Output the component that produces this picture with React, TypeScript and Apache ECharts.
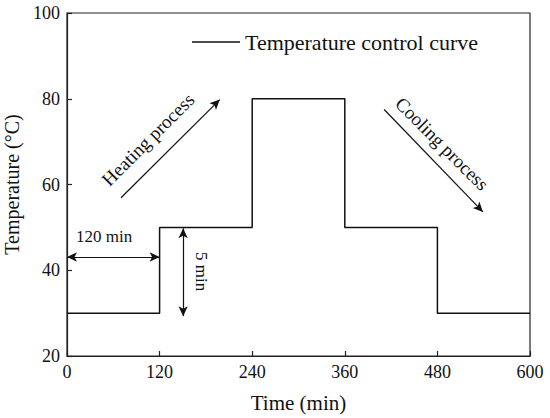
import React, { useEffect, useRef } from "react";
import * as echarts from "echarts";

// Step temperature control profile
const stepTimes = [0, 120, 240, 360, 480, 600];
const stepTemps = [30, 50, 80, 50, 30, 30];

const xTicks = [0, 120, 240, 360, 480, 600];
const yTicks = [20, 40, 60, 80, 100];

const seriesName = "Temperature control curve";
const xName = "Time (min)";
const yName = "Temperature (°C)";

// Annotation arrows in data coordinates: [x1, y1, x2, y2]
const heatingArrow = [70, 56.9, 198, 79.8];
const coolingArrow = [411, 77.5, 539, 53.6];
const durationArrow = [0, 43.1, 120, 43.1];
const holdArrow = [150.5, 49.8, 150.5, 29.3];

// Annotation texts: [label, x, y, rotateDeg, fontSize]
const annotTexts: [string, number, number, number, number][] = [
  ["Heating process", 105, 70.5, 45, 19],
  ["Cooling process", 486, 69.5, -45, 19],
  ["120 min", 48, 47.9, 0, 17],
  ["5 min", 174.5, 39.7, -90, 17],
];

const FONT = "Liberation Serif";

export default function App() {
  const ref = useRef<HTMLDivElement>(null);
  useEffect(() => {
    if (!ref.current) return;
    const chart = echarts.init(ref.current, undefined, { renderer: "svg" });
    const data = stepTimes.map((t, i) => [t, stepTemps[i]]);
    const arrowSize = [7, 10];
    const oneWay = (a: number[]) => [
      { coord: [a[0], a[1]], symbol: "none" },
      { coord: [a[2], a[3]], symbol: "arrow", symbolSize: arrowSize },
    ];
    const twoWay = (a: number[]) => [
      { coord: [a[0], a[1]], symbol: "arrow", symbolSize: arrowSize },
      { coord: [a[2], a[3]], symbol: "arrow", symbolSize: arrowSize },
    ];
    chart.setOption({
      animation: false,
      backgroundColor: "#ffffff",
      textStyle: { fontFamily: FONT, color: "#111" },
      grid: {
        left: 67,
        right: 20,
        top: 13,
        bottom: 62,
        containLabel: false,
        outerBoundsMode: "none",
        show: true,
        borderColor: "#222",
        borderWidth: 1.2,
      },
      legend: {
        data: [{ name: seriesName, icon: "rect" }],
        left: 192,
        top: 31,
        padding: 0,
        itemWidth: 48,
        itemHeight: 1.5,
        itemGap: 6,
        itemStyle: { color: "#111" },
        textStyle: { fontFamily: FONT, fontSize: 22, color: "#111" },
      },
      xAxis: {
        type: "value",
        min: xTicks[0],
        max: xTicks[xTicks.length - 1],
        interval: 120,
        name: xName,
        nameLocation: "middle",
        nameGap: 36,
        nameTextStyle: { fontFamily: FONT, fontSize: 21, color: "#111" },
        axisLine: { show: true, lineStyle: { color: "#222", width: 1.2 } },
        axisTick: { show: true, inside: true, length: 5, lineStyle: { color: "#222", width: 1.2 } },
        axisLabel: { fontFamily: FONT, fontSize: 18, color: "#111", margin: 7 },
        splitLine: { show: false },
      },
      yAxis: {
        type: "value",
        min: yTicks[0],
        max: yTicks[yTicks.length - 1],
        interval: 20,
        name: yName,
        nameLocation: "middle",
        nameGap: 35,
        nameTextStyle: { fontFamily: FONT, fontSize: 20, color: "#111" },
        axisLine: { show: true, lineStyle: { color: "#222", width: 1.2 } },
        axisTick: { show: true, inside: true, length: 5, lineStyle: { color: "#222", width: 1.2 } },
        axisLabel: { fontFamily: FONT, fontSize: 18, color: "#111", margin: 7 },
        splitLine: { show: false },
      },
      series: [
        {
          name: seriesName,
          type: "line",
          step: "end",
          data,
          symbol: "none",
          color: "#111",
          lineStyle: { color: "#111", width: 1.5 },
          markLine: {
            silent: true,
            label: { show: false },
            lineStyle: { color: "#111", width: 1.2, type: "solid" },
            data: [oneWay(heatingArrow), oneWay(coolingArrow), twoWay(durationArrow), twoWay(holdArrow)],
          },
          markPoint: {
            silent: true,
            symbol: "circle",
            symbolSize: 0,
            data: annotTexts.map(([txt, x, y, rot, fs]) => ({
              coord: [x, y],
              label: {
                show: true,
                position: "inside",
                formatter: txt,
                rotate: rot,
                fontFamily: FONT,
                fontSize: fs,
                color: "#111",
              },
            })),
          },
        },
      ],
    });
    return () => chart.dispose();
  }, []);
  return (
    <div
      ref={ref}
      style={{ position: "absolute", left: 0, top: 0, width: 550, height: 418, background: "#fff" }}
    />
  );
}
